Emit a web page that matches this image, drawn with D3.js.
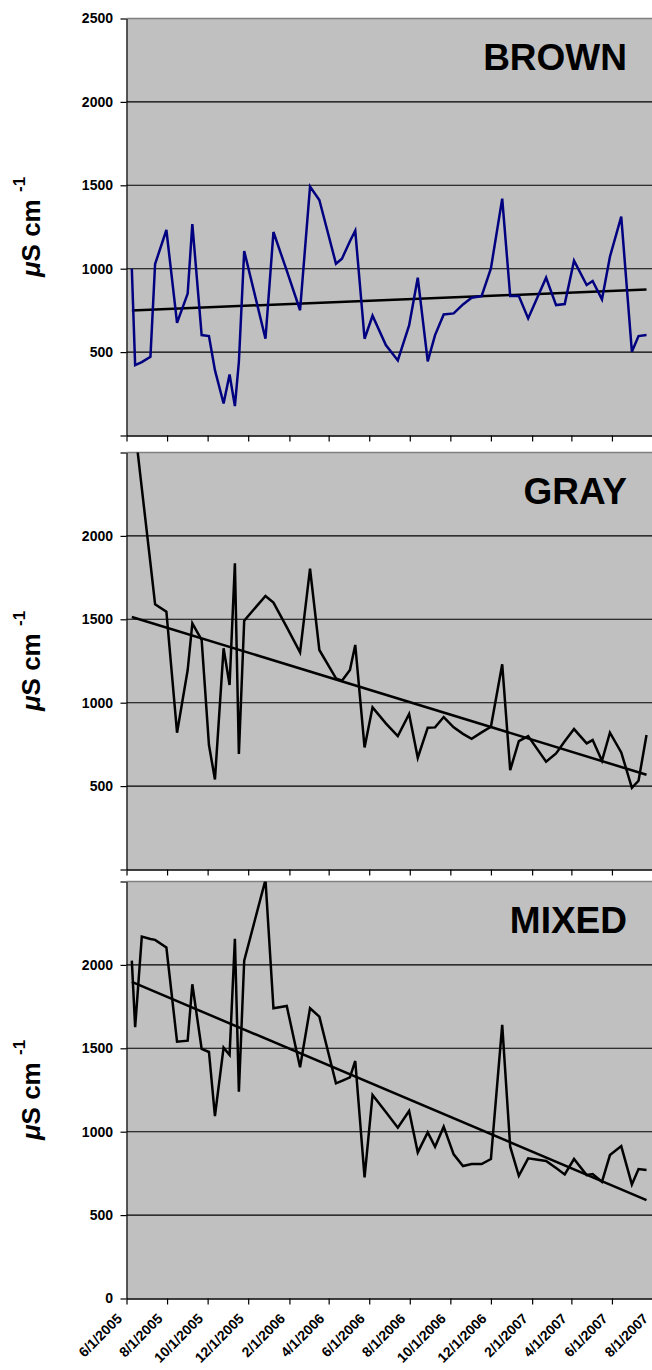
<!DOCTYPE html>
<html>
<head>
<meta charset="utf-8">
<script src="https://cdn.jsdelivr.net/npm/d3@7/dist/d3.min.js"></script>
<style>
  body { margin: 0; background: #fff; }
  svg { display: block; }
  text { font-family: "Liberation Sans", Arial, sans-serif; font-weight: bold; fill: #000; }
</style>
</head>
<body>
<svg id="chart" width="652" height="1370"></svg>
<script>
// Sampling dates (shared by the three sites)
const sampleDates = [
  "2005-06-09","2005-06-14","2005-06-24","2005-07-07","2005-07-14","2005-07-31","2005-08-16","2005-09-01",
  "2005-09-08","2005-09-22","2005-10-03","2005-10-12","2005-10-25","2005-11-03","2005-11-11","2005-11-17",
  "2005-11-25","2005-12-27","2006-01-08","2006-01-28","2006-02-17","2006-03-04","2006-03-18","2006-04-12",
  "2006-04-21","2006-05-03","2006-05-11","2006-05-25","2006-06-06","2006-06-26","2006-07-14","2006-07-31",
  "2006-08-13","2006-08-28","2006-09-08","2006-09-21","2006-10-06","2006-10-20","2006-11-02","2006-11-17",
  "2006-12-01","2006-12-18","2006-12-30","2007-01-12","2007-01-26","2007-02-22","2007-03-09","2007-03-22",
  "2007-04-05","2007-04-24","2007-05-03","2007-05-17","2007-05-29","2007-06-15","2007-07-01","2007-07-11",
  "2007-07-23"
];

// Specific conductance, µS/cm
const brownValues = [
  1000, 422, 440, 472, 1028, 1232, 675, 851,
  1268, 602, 596, 392, 192, 366, 176, 442,
  1106, 580, 1220, 988, 751, 1492, 1412, 1030,
  1060, 1165, 1228, 580, 718, 542, 450, 660,
  946, 444, 602, 726, 732, 786, 826, 836,
  1002, 1420, 836, 836, 702, 946, 782, 788,
  1048, 902, 926, 816, 1072, 1312, 502, 596,
  602
];
const grayValues = [
  2777, 2636, 2286, 1836, 1590, 1546, 820, 1196,
  1476, 1376, 746, 540, 1326, 1106, 1836, 692,
  1492, 1640, 1600, 1453, 1302, 1804, 1316, 1146,
  1132, 1196, 1346, 732, 972, 876, 800, 932,
  670, 850, 852, 914, 852, 813, 784, 822,
  856, 1230, 596, 770, 800, 646, 696, 769,
  842, 756, 776, 652, 820, 702, 490, 532,
  806
];
const mixedValues = [
  2026, 1626, 2170, 2155, 2150, 2104, 1540, 1546,
  1884, 1496, 1478, 1094, 1504, 1460, 2156, 1240,
  2026, 2510, 1740, 1754, 1386, 1740, 1690, 1290,
  1305, 1326, 1424, 726, 1220, 1118, 1024, 1124,
  876, 996, 910, 1030, 864, 794, 806, 806,
  836, 1640, 910, 736, 840, 824, 782, 744,
  836, 740, 746, 700, 860, 914, 684, 776,
  770
];

// Trend lines (start and end of the fitted line)
const trendDates = ["2005-06-09", "2007-07-23"];
const brownTrend = [750, 875];
const grayTrend = [1514, 568];
const mixedTrend = [1898, 590];

const panelNames = ["BROWN", "GRAY", "MIXED"];
const yTickValues = [0, 500, 1000, 1500, 2000, 2500];
const brownYLabels = [500, 1000, 1500, 2000, 2500];
const grayYLabels = [500, 1000, 1500, 2000];
const mixedYLabels = [0, 500, 1000, 1500, 2000];
const xTickDates = [
  "2005-06-01","2005-08-01","2005-10-01","2005-12-01","2006-02-01","2006-04-01","2006-06-01",
  "2006-08-01","2006-10-01","2006-12-01","2007-02-01","2007-04-01","2007-06-01","2007-08-01"
];

const parse = d3.timeParse("%Y-%m-%d");
const fmt = d3.timeFormat("%-m/%-d/%Y");
const dates = sampleDates.map(parse);
const tDates = trendDates.map(parse);
const xTicks = xTickDates.map(parse);

const W = 652;
const left = 126.5, right = 652.5;
const panelH = 417;
const panels = [
  { name: panelNames[0], top: 18.5, values: brownValues, trend: brownTrend, labels: brownYLabels, color: "#000080" },
  { name: panelNames[1], top: 452.5, values: grayValues, trend: grayTrend, labels: grayYLabels, color: "#000" },
  { name: panelNames[2], top: 881.5, values: mixedValues, trend: mixedTrend, labels: mixedYLabels, color: "#000" }
];

const x = d3.scaleTime().domain([xTicks[0], xTicks[xTicks.length - 1]]).range([left, right]);

const svg = d3.select("#chart");

panels.forEach((p, i) => {
  const bottom = p.top + panelH;
  const y = d3.scaleLinear().domain([0, 2500]).range([bottom, p.top]);
  const g = svg.append("g");

  // plot area
  g.append("rect").attr("x", left).attr("y", p.top)
    .attr("width", W - left).attr("height", panelH).attr("fill", "#C0C0C0");

  // top border
  g.append("line").attr("x1", left).attr("x2", W).attr("y1", p.top).attr("y2", p.top)
    .attr("stroke", "#808080").attr("stroke-width", 1.6);

  // gridlines
  g.selectAll("line.grid").data(yTickValues.filter(v => v > 0 && v < 2500)).join("line")
    .attr("class", "grid")
    .attr("x1", left).attr("x2", W)
    .attr("y1", d => y(d)).attr("y2", d => y(d))
    .attr("stroke", "#000").attr("stroke-width", 1.1);

  // clip region for the series
  const clipId = "clip" + i;
  svg.append("clipPath").attr("id", clipId).append("rect")
    .attr("x", left).attr("y", p.top).attr("width", W - left).attr("height", panelH);

  const line = d3.line().x(d => x(d[0])).y(d => y(d[1]));
  const series = dates.map((d, k) => [d, p.values[k]]);
  const trend = tDates.map((d, k) => [d, p.trend[k]]);

  const plot = g.append("g").attr("clip-path", `url(#${clipId})`);
  plot.append("path").datum(trend).attr("d", line)
    .attr("fill", "none").attr("stroke", "#000").attr("stroke-width", 2.5);
  plot.append("path").datum(series).attr("d", line)
    .attr("fill", "none").attr("stroke", p.color).attr("stroke-width", 2.5)
    .attr("stroke-linejoin", "miter").attr("stroke-miterlimit", 4);

  // y axis
  const yAxis = d3.axisLeft(y).tickValues(yTickValues).tickSize(6).tickSizeOuter(0).tickPadding(7.5)
    .tickFormat(d => p.labels.includes(d) ? String(d) : "");
  const ya = g.append("g").attr("transform", `translate(${left},0)`).call(yAxis);
  ya.select(".domain").attr("stroke", "#000").attr("stroke-width", 1.2);
  ya.selectAll(".tick line").attr("stroke", "#000").attr("stroke-width", 1.2);
  ya.selectAll(".tick text").style("font-size", "14px").style("font-family", null).attr("fill", "#000");

  // x axis
  const xAxis = d3.axisBottom(x).tickValues(xTicks).tickSize(6).tickSizeOuter(0)
    .tickFormat(i === 2 ? fmt : () => "");
  const xa = g.append("g").attr("transform", `translate(0,${bottom})`).call(xAxis);
  xa.select(".domain").attr("stroke", "#000").attr("stroke-width", 1.4);
  xa.selectAll(".tick line").attr("stroke", "#000").attr("stroke-width", 1.2);
  xa.selectAll(".tick text")
    .attr("x", null).attr("y", null).attr("dy", null)
    .attr("transform", "translate(-4,21) rotate(-45)")
    .style("text-anchor", "end").style("font-size", "14px").style("font-family", null).attr("fill", "#000");

  // panel name
  g.append("text").attr("x", 627).attr("y", p.top + 51.5)
    .attr("text-anchor", "end").style("font-size", "37px").text(p.name);

  // y axis title
  const cy = p.top + panelH / 2;
  const t = g.append("text").attr("transform", `translate(40,${cy}) rotate(-90)`)
    .attr("text-anchor", "middle").style("font-size", "26px");
  t.append("tspan").style("font-style", "italic").text("\u03BC");
  t.append("tspan").text("S cm ");
  t.append("tspan").attr("dy", -15).style("font-size", "17px").text("-1");
});
</script>
</body>
</html>
